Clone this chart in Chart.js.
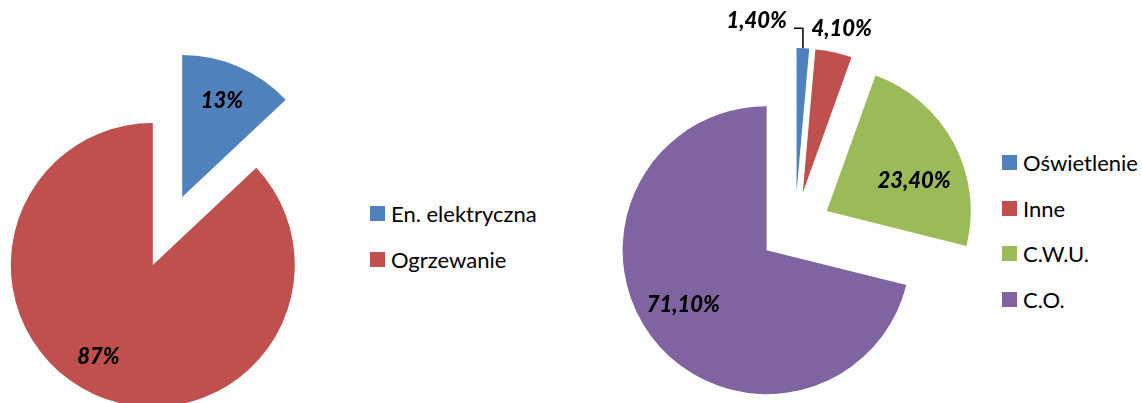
<!DOCTYPE html>
<html lang="pl">
<head>
<meta charset="utf-8">
<title>Struktura zużycia energii</title>
<script src="https://cdn.jsdelivr.net/npm/chart.js@4/dist/chart.umd.min.js"></script>
<style>
    body { margin: 0; background: #fff; overflow: hidden; }
    #wrap { position: relative; width: 1142px; height: 403px; }
    canvas { position: absolute; top: 0; }
    .legenda { position: absolute; font-family: Lato, "Liberation Sans", sans-serif; font-size: 22px; color: #000; }
    .legenda div { height: 45.6px; display: flex; align-items: center; white-space: nowrap; }
    .legenda span.box { width: 15px; height: 15px; margin-right: 6px; display: inline-block; }
</style>
</head>
<body>
<div id="wrap">
    <canvas id="lewy" width="335" height="403" style="left:0"></canvas>
    <div class="legenda" id="legendaLewa" style="left:370px; top:191px"></div>
    <canvas id="prawy" width="390" height="403" style="left:600px"></canvas>
    <div class="legenda" id="legendaPrawa" style="left:1002px; top:140px"></div>
</div>
<script>
// Dane - wykres lewy (udział energii)
const lewaEtykiety = ['En. elektryczna', 'Ogrzewanie'];
const lewaWartosci = [13, 87];
const lewaKolory = ['#4F81BD', '#C0504D'];

// Dane - wykres prawy (struktura ciepła i energii)
const prawaEtykiety = ['Oświetlenie', 'Inne', 'C.W.U.', 'C.O.'];
const prawaWartosci = [1.4, 4.1, 23.4, 71.1];
const prawaKolory = ['#4F81BD', '#C0504D', '#9BBB59', '#8064A2'];

const fontEtykiet = 'italic 900 22px Lato, "Liberation Sans", sans-serif';

// Wysunięcie wycinków (jak w Excelu - bez zmiany promienia i kątów)
const wysuniecie = {
    id: 'wysuniecie',
    beforeDatasetDraw(chart, args, opts) {
        const ctx = chart.ctx;
        const odl = opts.odleglosc || 0;
        args.meta.data.forEach(arc => {
            const p = arc.getProps(['x', 'y', 'startAngle', 'endAngle', 'outerRadius'], true);
            const mid = (p.startAngle + p.endAngle) / 2;
            const cx = p.x + Math.cos(mid) * odl;
            const cy = p.y + Math.sin(mid) * odl;
            ctx.save();
            ctx.beginPath();
            ctx.moveTo(cx, cy);
            ctx.arc(cx, cy, p.outerRadius, p.startAngle, p.endAngle);
            ctx.closePath();
            ctx.fillStyle = arc.options.backgroundColor;
            ctx.fill();
            ctx.restore();
        });
        return false; // nie rysuj domyślnych łuków
    }
};

// Etykiety procentowe na wycinkach
const etykiety = {
    id: 'etykiety',
    afterDatasetsDraw(chart, args, opts) {
        const ctx = chart.ctx;
        const odl = chart.options.plugins.wysuniecie.odleglosc || 0;
        const dane = chart.data.datasets[0].data;
        chart.getDatasetMeta(0).data.forEach((arc, i) => {
            const poz = opts.pozycje[i];
            const p = arc.getProps(['x', 'y', 'startAngle', 'endAngle', 'outerRadius'], true);
            const mid = (p.startAngle + p.endAngle) / 2;
            const ax = p.x + Math.cos(mid) * (odl + p.outerRadius * poz.r);
            const ay = p.y + Math.sin(mid) * (odl + p.outerRadius * poz.r);
            ctx.save();
            if (poz.linia) {
                // linia odniesienia do małego wycinka
                ctx.strokeStyle = '#000';
                ctx.lineWidth = 1.5;
                ctx.beginPath();
                ctx.moveTo(ax, ay);
                poz.linia.forEach(pt => ctx.lineTo(ax + pt[0], ay + pt[1]));
                ctx.stroke();
            }
            ctx.font = fontEtykiet;
            ctx.fillStyle = '#000';
            ctx.textAlign = poz.align || 'center';
            ctx.textBaseline = 'middle';
            ctx.fillText(opts.format(dane[i]), ax + (poz.dx || 0), ay + (poz.dy || 0));
            ctx.restore();
        });
    }
};

function legenda(id, etykietyL, kolory) {
    const el = document.getElementById(id);
    etykietyL.forEach((txt, i) => {
        const row = document.createElement('div');
        const box = document.createElement('span');
        box.className = 'box';
        box.style.background = kolory[i];
        row.appendChild(box);
        row.appendChild(document.createTextNode(txt));
        el.appendChild(row);
    });
}

new Chart(document.getElementById('lewy'), {
    type: 'pie',
    data: {
        labels: lewaEtykiety,
        datasets: [{ data: lewaWartosci, backgroundColor: lewaKolory, borderWidth: 0 }]
    },
    options: {
        responsive: false,
        animation: false,
        radius: 142,
        layout: { padding: { top: 59 } },
        plugins: {
            legend: { display: false },
            tooltip: { enabled: false },
            wysuniecie: { odleglosc: 37 },
            etykiety: {
                format: v => v + '%',
                pozycje: [
                    { r: 0.74, dx: -2, dy: 0 },
                    { r: 0.75, dx: -12, dy: -6 }
                ]
            }
        }
    },
    plugins: [wysuniecie, etykiety]
});

new Chart(document.getElementById('prawy'), {
    type: 'pie',
    data: {
        labels: prawaEtykiety,
        datasets: [{ data: prawaWartosci, backgroundColor: prawaKolory, borderWidth: 0 }]
    },
    options: {
        responsive: false,
        animation: false,
        radius: 144,
        layout: { padding: { top: 53 } },
        plugins: {
            legend: { display: false },
            tooltip: { enabled: false },
            wysuniecie: { odleglosc: 36 },
            etykiety: {
                format: v => v.toFixed(2).replace('.', ',') + '%',
                pozycje: [
                    { r: 1, dx: -16, dy: -27, align: 'right', linia: [[0, -20], [-9, -20]] },
                    { r: 1, dx: 8, dy: -23 },
                    { r: 0.64, dx: 6, dy: 13 },
                    { r: 0.69, dx: -5, dy: -6 }
                ]
            }
        }
    },
    plugins: [wysuniecie, etykiety]
});

legenda('legendaLewa', lewaEtykiety, lewaKolory);
legenda('legendaPrawa', prawaEtykiety, prawaKolory);
</script>
</body>
</html>
